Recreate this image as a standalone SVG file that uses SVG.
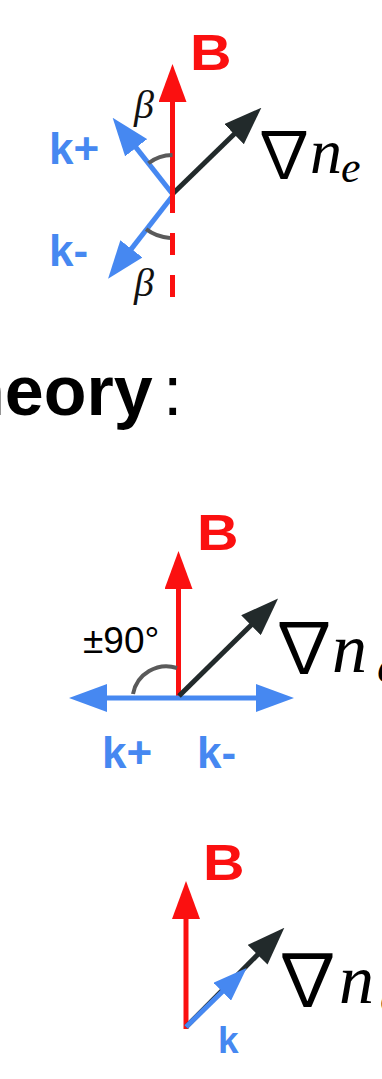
<svg xmlns="http://www.w3.org/2000/svg" width="382" height="1079" viewBox="0 0 382 1079">
<style>
.red{stroke:#fb1010;stroke-width:5;fill:none}
.blue{stroke:#4688f1;stroke-width:5;fill:none}
.blk{stroke:#222a2b;stroke-width:5;fill:none}
.arc{stroke:#5a5a5a;stroke-width:4;fill:none}
.lb{font-family:"Liberation Sans",Arial,sans-serif;font-weight:bold}
.B{fill:#fb1010;font-size:50px}
.k{fill:#4688f1;font-size:44px}
.beta{font-family:"Liberation Serif","Times New Roman",serif;font-style:italic;font-size:40px;fill:#111}
.nab{font-family:"Noto Sans CJK JP","DejaVu Sans",sans-serif;font-weight:400;fill:#000}
.it{font-family:"Liberation Serif","Times New Roman",serif;font-style:italic;fill:#000}
</style>
<defs>
<marker id="hr" viewBox="0 0 38 28" refX="1" refY="14" markerWidth="38" markerHeight="28" markerUnits="userSpaceOnUse" orient="auto"><path d="M0,0 L38,14 L0,28 Z" fill="#fb1010"/></marker>
<marker id="hb" viewBox="0 0 38 28" refX="1" refY="14" markerWidth="38" markerHeight="28" markerUnits="userSpaceOnUse" orient="auto"><path d="M0,0 L38,14 L0,28 Z" fill="#4688f1"/></marker>
<marker id="hbs" viewBox="0 0 34 25" refX="1" refY="12.5" markerWidth="34" markerHeight="25" markerUnits="userSpaceOnUse" orient="auto"><path d="M0,0 L34,12.5 L0,25 Z" fill="#4688f1"/></marker>
<marker id="hk" viewBox="0 0 38 28" refX="1" refY="14" markerWidth="38" markerHeight="28" markerUnits="userSpaceOnUse" orient="auto"><path d="M0,0 L38,14 L0,28 Z" fill="#222a2b"/></marker>
</defs>

<g id="connectors">
  <!-- top diagram -->
  <line class="blue" x1="172.5" y1="194" x2="135.5" y2="146.9" marker-end="url(#hb)"/>
  <line class="blue" x1="172.5" y1="196" x2="130.8" y2="249.6" marker-end="url(#hb)"/>
  <line class="blk" x1="172.5" y1="194" x2="234.8" y2="133.5" marker-end="url(#hk)"/>
  <line class="red" x1="172.5" y1="213" x2="172.5" y2="101" marker-end="url(#hr)"/>
  <line class="red" x1="172.5" y1="233" x2="172.5" y2="297" stroke-dasharray="22 20"/>
  <path class="arc" d="M148.4,163.3 A39,39 0 0 1 172.5,155"/>
  <path class="arc" d="M146.1,229.2 A44,44 0 0 0 170,238"/>

  <!-- middle diagram -->
  <line class="red" x1="178.5" y1="696" x2="178.5" y2="588" marker-end="url(#hr)"/>
  <line class="blue" x1="178" y1="698" x2="106" y2="698" marker-end="url(#hb)"/>
  <line class="blue" x1="178" y1="698" x2="257" y2="698" marker-end="url(#hb)"/>
  <line class="blk" x1="179" y1="696" x2="251.7" y2="624.5" marker-end="url(#hk)"/>
  <path class="arc" d="M133,694 A34,34 0 0 1 177,668"/>

  <!-- bottom diagram -->
  <line class="red" x1="186" y1="1029" x2="186" y2="918" marker-end="url(#hr)"/>
  <line class="blk" x1="186" y1="1027" x2="258.3" y2="954" marker-end="url(#hk)"/>
  <line class="blue" x1="186" y1="1027" x2="223" y2="991" marker-end="url(#hbs)"/>
</g>

<g id="top-labels">
  <text class="lb B" transform="translate(190,70) scale(1.15,1)">B</text>
  <text class="lb k" x="49" y="164">k+</text>
  <text class="lb k" x="49" y="266">k-</text>
  <text class="beta" x="134" y="118">β</text>
  <text class="beta" x="134" y="296">β</text>
  <text class="nab" x="252" y="177" font-size="64">∇</text>
  <text class="it" x="310" y="173" font-size="64">n</text>
  <text class="it" x="341" y="182" font-size="44">e</text>
</g>

<g id="heading">
  <text class="lb" x="-38" y="415" font-size="70" fill="#000">heory<tspan font-weight="normal" dx="-9"> :</tspan></text>
</g>

<g id="middle-labels">
  <text class="lb B" transform="translate(197,550) scale(1.15,1)">B</text>
  <text font-family="Liberation Sans, Arial, sans-serif" font-size="37" x="83" y="653" fill="#000">±90°</text>
  <text class="lb k" x="102" y="768">k+</text>
  <text class="lb k" x="197" y="768">k-</text>
  <text class="nab" x="269" y="673" font-size="70">∇</text>
  <text class="it" x="332" y="672" font-size="70">n</text>
  <text class="it" x="377" y="682" font-size="48">e</text>
</g>

<g id="bottom-labels">
  <text class="lb B" transform="translate(203,880) scale(1.15,1)">B</text>
  <text class="lb k" x="218" y="1053" style="font-size:37px">k</text>
  <text class="nab" x="271.5" y="1005" font-size="72">∇</text>
  <text class="it" x="339" y="1003" font-size="70">n</text>
  <text class="it" x="380" y="1012" font-size="48">e</text>
</g>
</svg>
